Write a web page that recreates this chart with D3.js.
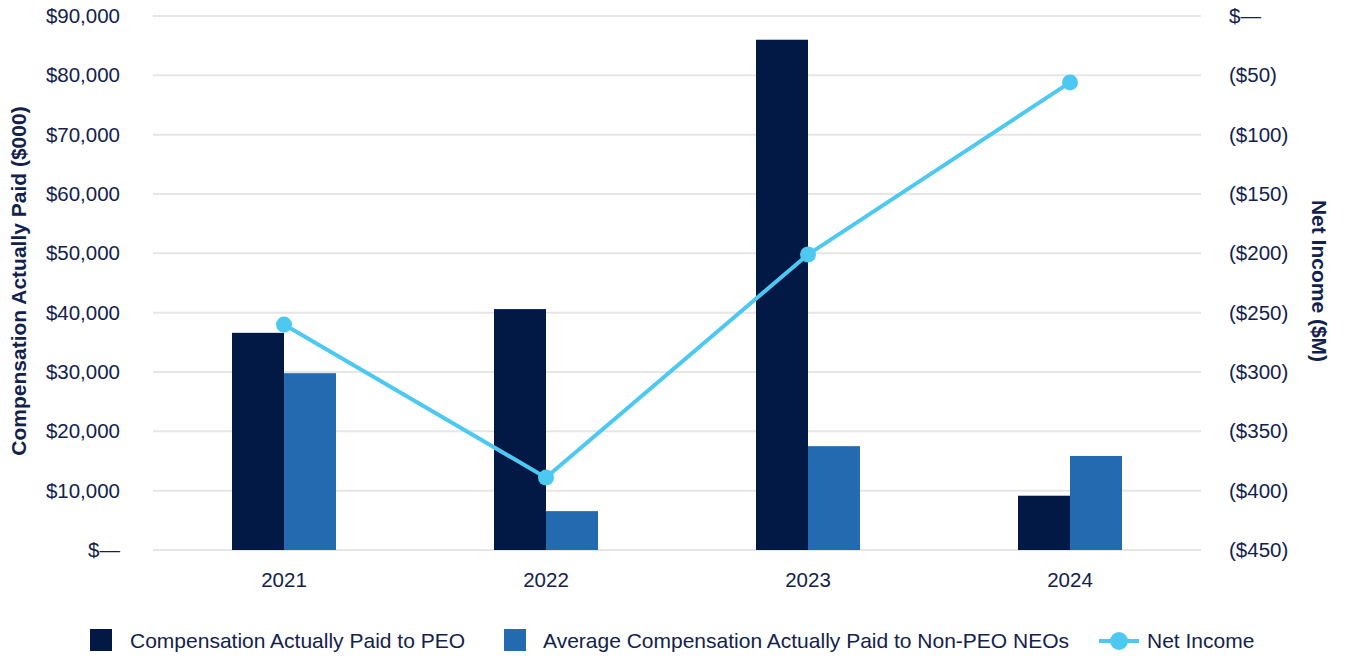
<!DOCTYPE html>
<html>
<head>
<meta charset="utf-8">
<script src="https://cdn.jsdelivr.net/npm/d3@7"></script>
<style>
  html, body { margin: 0; padding: 0; background: #ffffff; }
  svg { display: block; font-family: "Liberation Sans", Arial, sans-serif; }
</style>
</head>
<body>
<svg id="chart" width="1345" height="658"></svg>
<script>
const years = ["2021", "2022", "2023", "2024"];
const peoValues = [36600, 40600, 86000, 9150];
const nonPeoValues = [29800, 6550, 17500, 15850];
const netIncomeValues = [-260, -389, -201, -56];
const leftTicks = [0, 10000, 20000, 30000, 40000, 50000, 60000, 70000, 80000, 90000];
const rightTicks = [0, -50, -100, -150, -200, -250, -300, -350, -400, -450];
const seriesNames = ["Compensation Actually Paid to PEO", "Average Compensation Actually Paid to Non-PEO NEOs", "Net Income"];

const textColor = "#13224d";
const colPeo = "#021845";
const colNon = "#236ab0";
const colLine = "#4dc9f1";

const svg = d3.select("#chart");
const plotL = 153, plotR = 1201, plotT = 16, plotB = 550;

const x0 = d3.scaleBand().domain(years).range([plotL, plotR]).padding(0);
const groupW = 104;
const x1 = d3.scaleBand().domain(["peo", "non"]).range([0, groupW]).padding(0);
const yL = d3.scaleLinear().domain([0, 90000]).range([plotB, plotT]);
const yR = d3.scaleLinear().domain([-450, 0]).range([plotB, plotT]);

// gridlines
svg.append("g").selectAll("line").data(leftTicks).join("line")
  .attr("x1", plotL).attr("x2", plotR)
  .attr("y1", d => yL(d)).attr("y2", d => yL(d))
  .attr("stroke", "#e6e6e6").attr("stroke-width", 2);

// left axis
const fmtL = d => d === 0 ? "$\u2014" : "$" + d3.format(",")(d);
const axL = svg.append("g").attr("transform", `translate(${plotL},0)`)
  .call(d3.axisLeft(yL).tickValues(leftTicks).tickFormat(fmtL).tickSize(0).tickPadding(33));
axL.select(".domain").remove();
axL.selectAll("text").attr("fill", textColor).style("font-size", "20.5px")
  .style("font-family", "'Liberation Sans', Arial, sans-serif");

// right axis
const fmtR = d => d === 0 ? "$\u2014" : "($" + Math.abs(d) + ")";
const axR = svg.append("g").attr("transform", `translate(${plotR},0)`)
  .call(d3.axisRight(yR).tickValues(rightTicks).tickFormat(fmtR).tickSize(0).tickPadding(28));
axR.select(".domain").remove();
axR.selectAll("text").attr("fill", textColor).style("font-size", "20.5px")
  .style("font-family", "'Liberation Sans', Arial, sans-serif");

// x axis
const axX = svg.append("g").attr("transform", `translate(0,${plotB})`)
  .call(d3.axisBottom(x0).tickSize(0).tickPadding(22));
axX.select(".domain").remove();
axX.selectAll("text").attr("fill", textColor).style("font-size", "20.5px")
  .style("font-family", "'Liberation Sans', Arial, sans-serif");

// bars
const barData = years.map((y, i) => ({ year: y, peo: peoValues[i], non: nonPeoValues[i] }));
const groups = svg.append("g").selectAll("g").data(barData).join("g")
  .attr("transform", d => `translate(${x0(d.year) + (x0.bandwidth() - groupW) / 2},0)`);
groups.append("rect")
  .attr("x", x1("peo")).attr("width", x1.bandwidth())
  .attr("y", d => yL(d.peo)).attr("height", d => yL(0) - yL(d.peo))
  .attr("fill", colPeo);
groups.append("rect")
  .attr("x", x1("non")).attr("width", x1.bandwidth())
  .attr("y", d => yL(d.non)).attr("height", d => yL(0) - yL(d.non))
  .attr("fill", colNon);

// line
const lineData = years.map((y, i) => ({ year: y, v: netIncomeValues[i] }));
const cx = d => x0(d.year) + x0.bandwidth() / 2;
svg.append("path").datum(lineData)
  .attr("d", d3.line().x(cx).y(d => yR(d.v)))
  .attr("fill", "none").attr("stroke", colLine).attr("stroke-width", 4);
svg.append("g").selectAll("circle").data(lineData).join("circle")
  .attr("cx", cx).attr("cy", d => yR(d.v)).attr("r", 8).attr("fill", colLine);

// axis titles
svg.append("text")
  .attr("transform", `translate(26,281) rotate(-90)`)
  .attr("text-anchor", "middle").attr("fill", textColor)
  .style("font-size", "21px").style("font-weight", "bold")
  .text("Compensation Actually Paid ($000)");
svg.append("text")
  .attr("transform", `translate(1312,281) rotate(90)`)
  .attr("text-anchor", "middle").attr("fill", textColor)
  .style("font-size", "21px").style("font-weight", "bold")
  .text("Net Income ($M)");

// legend
const lg = svg.append("g");
lg.append("rect").attr("x", 90).attr("y", 629).attr("width", 22).attr("height", 22).attr("fill", colPeo);
lg.append("text").attr("x", 130).attr("y", 648).attr("fill", textColor).style("font-size", "21px").text(seriesNames[0]);
lg.append("rect").attr("x", 504).attr("y", 629).attr("width", 22).attr("height", 22).attr("fill", colNon);
lg.append("text").attr("x", 543).attr("y", 648).attr("fill", textColor).style("font-size", "21px").text(seriesNames[1]);
lg.append("line").attr("x1", 1099).attr("x2", 1139).attr("y1", 641).attr("y2", 641)
  .attr("stroke", colLine).attr("stroke-width", 4);
lg.append("circle").attr("cx", 1119).attr("cy", 641).attr("r", 9).attr("fill", colLine);
lg.append("text").attr("x", 1147).attr("y", 648).attr("fill", textColor).style("font-size", "21px").text(seriesNames[2]);
</script>
</body>
</html>
